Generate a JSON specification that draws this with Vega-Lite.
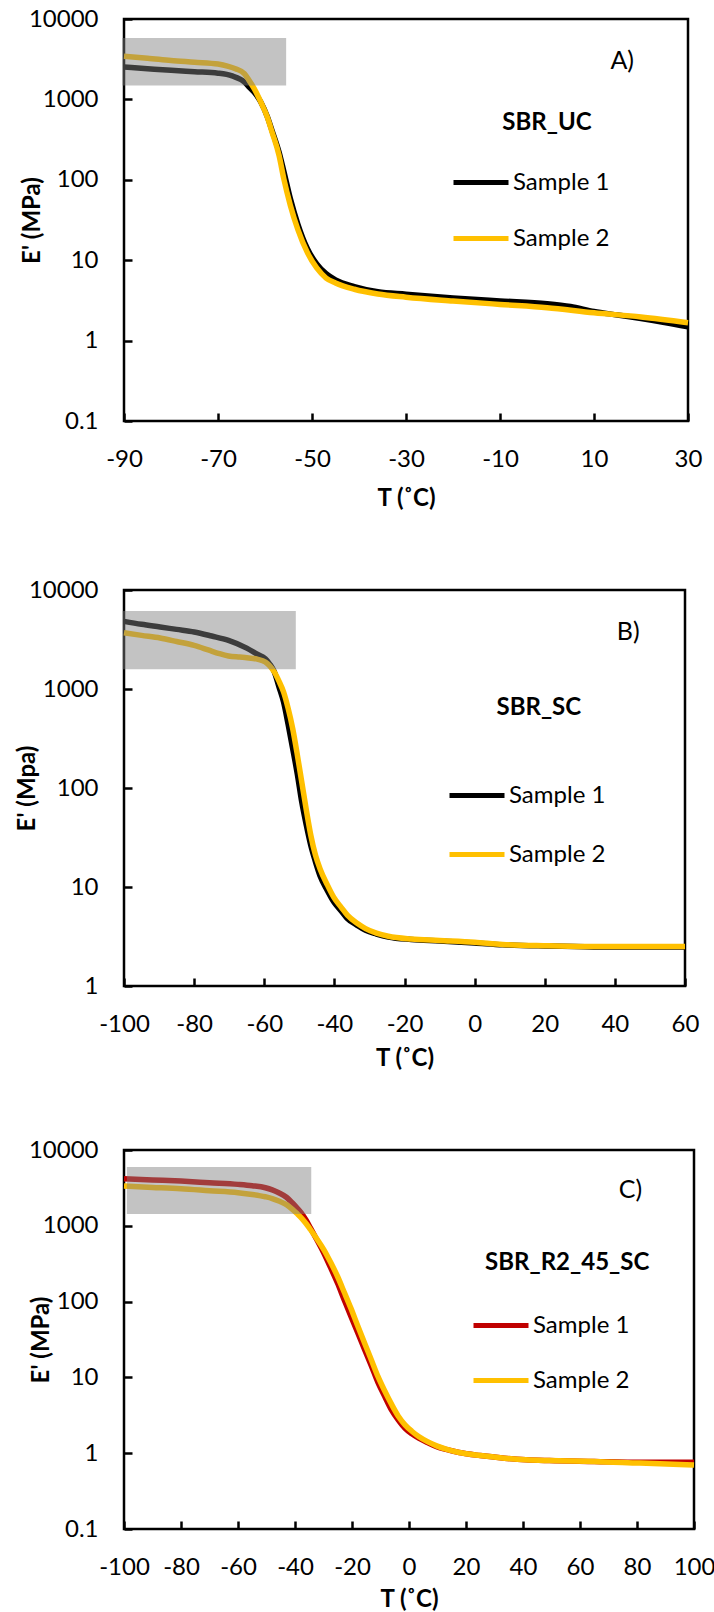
{
  "$schema": "https://vega.github.io/schema/vega-lite/v6.json",
  "padding": {"left": 13, "top": 5, "right": 3, "bottom": 0},
  "spacing": 64,
  "background": "white",
  "config": {
    "font": "Lato",
    "view": {"stroke": "#000000", "strokeWidth": 2.5},
    "axis": {
      "grid": false, "domain": false,
      "tickColor": "#000000", "tickWidth": 2.5, "tickSize": -8,
      "labelFont": "Lato", "labelFontSize": 24, "labelColor": "#000000", "labelPadding": 34,
      "labelFlush": false, "labelOverlap": false,
      "titleFont": "Lato", "titleFontSize": 24, "titleFontWeight": "bold", "titleColor": "#000000",
      "titleBaseline": "middle"
    },
    "legend": {
      "orient": "none", "title": null, "symbolType": "stroke", "symbolSize": 3025, "symbolStrokeWidth": 5,
      "labelFont": "Lato", "labelFontSize": 24, "labelColor": "#000000", "labelOffset": 2, "padding": 0
    }
  },
  "resolve": {"scale": {"color": "independent"}},
  "datasets": {
    "curvesA": [
      {"sample": "Sample 1", "T": -90, "E": 2530}, {"sample": "Sample 1", "T": -85, "E": 2410},
      {"sample": "Sample 1", "T": -80, "E": 2300}, {"sample": "Sample 1", "T": -75, "E": 2210},
      {"sample": "Sample 1", "T": -70, "E": 2120}, {"sample": "Sample 1", "T": -67, "E": 1960},
      {"sample": "Sample 1", "T": -64.4, "E": 1645}, {"sample": "Sample 1", "T": -63.4, "E": 1425},
      {"sample": "Sample 1", "T": -62.3, "E": 1230}, {"sample": "Sample 1", "T": -60.9, "E": 930},
      {"sample": "Sample 1", "T": -59.5, "E": 610}, {"sample": "Sample 1", "T": -58.5, "E": 410},
      {"sample": "Sample 1", "T": -57, "E": 220}, {"sample": "Sample 1", "T": -56, "E": 128},
      {"sample": "Sample 1", "T": -54.6, "E": 58}, {"sample": "Sample 1", "T": -53, "E": 28},
      {"sample": "Sample 1", "T": -51, "E": 14}, {"sample": "Sample 1", "T": -49, "E": 9},
      {"sample": "Sample 1", "T": -47, "E": 6.8}, {"sample": "Sample 1", "T": -45, "E": 5.7},
      {"sample": "Sample 1", "T": -41, "E": 4.7}, {"sample": "Sample 1", "T": -36, "E": 4.05},
      {"sample": "Sample 1", "T": -30, "E": 3.78}, {"sample": "Sample 1", "T": -20, "E": 3.4},
      {"sample": "Sample 1", "T": -10, "E": 3.12}, {"sample": "Sample 1", "T": 0, "E": 2.88},
      {"sample": "Sample 1", "T": 5, "E": 2.65}, {"sample": "Sample 1", "T": 10, "E": 2.3},
      {"sample": "Sample 1", "T": 15, "E": 2.08}, {"sample": "Sample 1", "T": 20, "E": 1.88},
      {"sample": "Sample 1", "T": 25, "E": 1.68}, {"sample": "Sample 1", "T": 30, "E": 1.48},
      {"sample": "Sample 2", "T": -90, "E": 3430}, {"sample": "Sample 2", "T": -85, "E": 3250},
      {"sample": "Sample 2", "T": -80, "E": 3050}, {"sample": "Sample 2", "T": -75, "E": 2900},
      {"sample": "Sample 2", "T": -70, "E": 2750}, {"sample": "Sample 2", "T": -68, "E": 2600},
      {"sample": "Sample 2", "T": -66.3, "E": 2410}, {"sample": "Sample 2", "T": -64.4, "E": 2090},
      {"sample": "Sample 2", "T": -63.4, "E": 1725}, {"sample": "Sample 2", "T": -62.3, "E": 1360},
      {"sample": "Sample 2", "T": -60.9, "E": 929}, {"sample": "Sample 2", "T": -59.5, "E": 600},
      {"sample": "Sample 2", "T": -58.5, "E": 392}, {"sample": "Sample 2", "T": -57, "E": 200},
      {"sample": "Sample 2", "T": -56, "E": 103}, {"sample": "Sample 2", "T": -54.6, "E": 48},
      {"sample": "Sample 2", "T": -53, "E": 24}, {"sample": "Sample 2", "T": -51, "E": 12.5},
      {"sample": "Sample 2", "T": -49, "E": 8}, {"sample": "Sample 2", "T": -47, "E": 6},
      {"sample": "Sample 2", "T": -45, "E": 5.2}, {"sample": "Sample 2", "T": -41, "E": 4.35},
      {"sample": "Sample 2", "T": -36, "E": 3.8}, {"sample": "Sample 2", "T": -30, "E": 3.47},
      {"sample": "Sample 2", "T": -20, "E": 3.11}, {"sample": "Sample 2", "T": -10, "E": 2.82},
      {"sample": "Sample 2", "T": 0, "E": 2.57}, {"sample": "Sample 2", "T": 10, "E": 2.22},
      {"sample": "Sample 2", "T": 20, "E": 1.97}, {"sample": "Sample 2", "T": 30, "E": 1.67}
    ],
    "curvesB": [
      {"sample": "Sample 1", "T": -100, "E": 4820}, {"sample": "Sample 1", "T": -95, "E": 4500},
      {"sample": "Sample 1", "T": -89.7, "E": 4230}, {"sample": "Sample 1", "T": -85, "E": 4000},
      {"sample": "Sample 1", "T": -80, "E": 3770}, {"sample": "Sample 1", "T": -75, "E": 3430},
      {"sample": "Sample 1", "T": -70.2, "E": 3100}, {"sample": "Sample 1", "T": -65, "E": 2590},
      {"sample": "Sample 1", "T": -62, "E": 2250}, {"sample": "Sample 1", "T": -59.7, "E": 2020},
      {"sample": "Sample 1", "T": -58.5, "E": 1800}, {"sample": "Sample 1", "T": -57.1, "E": 1480},
      {"sample": "Sample 1", "T": -55.8, "E": 1050}, {"sample": "Sample 1", "T": -54.5, "E": 740},
      {"sample": "Sample 1", "T": -53.2, "E": 440}, {"sample": "Sample 1", "T": -51.9, "E": 251},
      {"sample": "Sample 1", "T": -50.6, "E": 140}, {"sample": "Sample 1", "T": -49.3, "E": 72},
      {"sample": "Sample 1", "T": -48, "E": 42}, {"sample": "Sample 1", "T": -46.7, "E": 26},
      {"sample": "Sample 1", "T": -45.4, "E": 18}, {"sample": "Sample 1", "T": -44.1, "E": 13},
      {"sample": "Sample 1", "T": -42, "E": 9.2}, {"sample": "Sample 1", "T": -40.2, "E": 7.1},
      {"sample": "Sample 1", "T": -38, "E": 5.7}, {"sample": "Sample 1", "T": -36.3, "E": 4.8},
      {"sample": "Sample 1", "T": -33.5, "E": 4.1}, {"sample": "Sample 1", "T": -31.1, "E": 3.65},
      {"sample": "Sample 1", "T": -28, "E": 3.35}, {"sample": "Sample 1", "T": -24.6, "E": 3.12},
      {"sample": "Sample 1", "T": -18.1, "E": 2.95}, {"sample": "Sample 1", "T": -10, "E": 2.85},
      {"sample": "Sample 1", "T": 0, "E": 2.72}, {"sample": "Sample 1", "T": 8, "E": 2.61},
      {"sample": "Sample 1", "T": 21, "E": 2.53}, {"sample": "Sample 1", "T": 34, "E": 2.48},
      {"sample": "Sample 1", "T": 45, "E": 2.47}, {"sample": "Sample 1", "T": 60, "E": 2.47},
      {"sample": "Sample 2", "T": -100, "E": 3700}, {"sample": "Sample 2", "T": -95, "E": 3480},
      {"sample": "Sample 2", "T": -89.7, "E": 3275}, {"sample": "Sample 2", "T": -85, "E": 3020},
      {"sample": "Sample 2", "T": -80, "E": 2755}, {"sample": "Sample 2", "T": -76, "E": 2480},
      {"sample": "Sample 2", "T": -72.8, "E": 2275}, {"sample": "Sample 2", "T": -70.2, "E": 2155},
      {"sample": "Sample 2", "T": -67, "E": 2100}, {"sample": "Sample 2", "T": -65, "E": 2070},
      {"sample": "Sample 2", "T": -62, "E": 2000}, {"sample": "Sample 2", "T": -59.7, "E": 1875},
      {"sample": "Sample 2", "T": -58.5, "E": 1720}, {"sample": "Sample 2", "T": -57.1, "E": 1480},
      {"sample": "Sample 2", "T": -55.8, "E": 1200}, {"sample": "Sample 2", "T": -54.5, "E": 935},
      {"sample": "Sample 2", "T": -53.2, "E": 640}, {"sample": "Sample 2", "T": -51.9, "E": 400},
      {"sample": "Sample 2", "T": -50.6, "E": 220}, {"sample": "Sample 2", "T": -49.3, "E": 115},
      {"sample": "Sample 2", "T": -48, "E": 60}, {"sample": "Sample 2", "T": -46.7, "E": 33},
      {"sample": "Sample 2", "T": -45.4, "E": 21}, {"sample": "Sample 2", "T": -44.1, "E": 15.3},
      {"sample": "Sample 2", "T": -42, "E": 10.5}, {"sample": "Sample 2", "T": -40.2, "E": 7.9},
      {"sample": "Sample 2", "T": -38, "E": 6.2}, {"sample": "Sample 2", "T": -36.3, "E": 5.2},
      {"sample": "Sample 2", "T": -33.5, "E": 4.3}, {"sample": "Sample 2", "T": -31.1, "E": 3.8},
      {"sample": "Sample 2", "T": -28, "E": 3.42}, {"sample": "Sample 2", "T": -24.6, "E": 3.18},
      {"sample": "Sample 2", "T": -18.1, "E": 2.98}, {"sample": "Sample 2", "T": -10, "E": 2.88},
      {"sample": "Sample 2", "T": 0, "E": 2.76}, {"sample": "Sample 2", "T": 8, "E": 2.63},
      {"sample": "Sample 2", "T": 21, "E": 2.55}, {"sample": "Sample 2", "T": 34, "E": 2.5},
      {"sample": "Sample 2", "T": 60, "E": 2.5}
    ],
    "curvesC": [
      {"sample": "Sample 1", "T": -100, "E": 4180}, {"sample": "Sample 1", "T": -90, "E": 4030},
      {"sample": "Sample 1", "T": -80, "E": 3890}, {"sample": "Sample 1", "T": -70, "E": 3700},
      {"sample": "Sample 1", "T": -60, "E": 3520}, {"sample": "Sample 1", "T": -55, "E": 3380},
      {"sample": "Sample 1", "T": -50.4, "E": 3180}, {"sample": "Sample 1", "T": -48, "E": 2980},
      {"sample": "Sample 1", "T": -45.7, "E": 2730}, {"sample": "Sample 1", "T": -43, "E": 2380},
      {"sample": "Sample 1", "T": -40.9, "E": 2000}, {"sample": "Sample 1", "T": -39.4, "E": 1740},
      {"sample": "Sample 1", "T": -37.8, "E": 1480}, {"sample": "Sample 1", "T": -36.2, "E": 1200},
      {"sample": "Sample 1", "T": -34.6, "E": 940}, {"sample": "Sample 1", "T": -32.3, "E": 650},
      {"sample": "Sample 1", "T": -29.9, "E": 438}, {"sample": "Sample 1", "T": -27.5, "E": 280},
      {"sample": "Sample 1", "T": -25.1, "E": 176}, {"sample": "Sample 1", "T": -22.8, "E": 107},
      {"sample": "Sample 1", "T": -20.4, "E": 64}, {"sample": "Sample 1", "T": -18, "E": 39},
      {"sample": "Sample 1", "T": -15.6, "E": 23.4}, {"sample": "Sample 1", "T": -13.2, "E": 14.2},
      {"sample": "Sample 1", "T": -10.9, "E": 8.6}, {"sample": "Sample 1", "T": -8.5, "E": 5.6},
      {"sample": "Sample 1", "T": -6.1, "E": 3.7}, {"sample": "Sample 1", "T": -3.8, "E": 2.75},
      {"sample": "Sample 1", "T": -1.4, "E": 2.13}, {"sample": "Sample 1", "T": 1, "E": 1.8},
      {"sample": "Sample 1", "T": 3.4, "E": 1.58}, {"sample": "Sample 1", "T": 6.5, "E": 1.38},
      {"sample": "Sample 1", "T": 9.7, "E": 1.22}, {"sample": "Sample 1", "T": 13, "E": 1.12},
      {"sample": "Sample 1", "T": 17.6, "E": 1.02}, {"sample": "Sample 1", "T": 25, "E": 0.93},
      {"sample": "Sample 1", "T": 33.5, "E": 0.86}, {"sample": "Sample 1", "T": 41, "E": 0.82},
      {"sample": "Sample 1", "T": 49.3, "E": 0.8}, {"sample": "Sample 1", "T": 65, "E": 0.78},
      {"sample": "Sample 1", "T": 81, "E": 0.76}, {"sample": "Sample 1", "T": 100, "E": 0.76},
      {"sample": "Sample 2", "T": -100, "E": 3340}, {"sample": "Sample 2", "T": -90, "E": 3210},
      {"sample": "Sample 2", "T": -80, "E": 3080}, {"sample": "Sample 2", "T": -70, "E": 2900},
      {"sample": "Sample 2", "T": -60, "E": 2730}, {"sample": "Sample 2", "T": -55, "E": 2590},
      {"sample": "Sample 2", "T": -50.4, "E": 2415}, {"sample": "Sample 2", "T": -48, "E": 2290},
      {"sample": "Sample 2", "T": -45.7, "E": 2120}, {"sample": "Sample 2", "T": -43, "E": 1900},
      {"sample": "Sample 2", "T": -40.9, "E": 1645}, {"sample": "Sample 2", "T": -39.4, "E": 1460},
      {"sample": "Sample 2", "T": -37.8, "E": 1275}, {"sample": "Sample 2", "T": -36.2, "E": 1080},
      {"sample": "Sample 2", "T": -34.6, "E": 893}, {"sample": "Sample 2", "T": -32.3, "E": 670},
      {"sample": "Sample 2", "T": -29.9, "E": 486}, {"sample": "Sample 2", "T": -27.5, "E": 330},
      {"sample": "Sample 2", "T": -25.1, "E": 216}, {"sample": "Sample 2", "T": -22.8, "E": 135},
      {"sample": "Sample 2", "T": -20.4, "E": 82}, {"sample": "Sample 2", "T": -18, "E": 48},
      {"sample": "Sample 2", "T": -15.6, "E": 28.5}, {"sample": "Sample 2", "T": -13.2, "E": 17},
      {"sample": "Sample 2", "T": -10.9, "E": 10.3}, {"sample": "Sample 2", "T": -8.5, "E": 6.6},
      {"sample": "Sample 2", "T": -6.1, "E": 4.4}, {"sample": "Sample 2", "T": -3.8, "E": 3.1},
      {"sample": "Sample 2", "T": -1.4, "E": 2.37}, {"sample": "Sample 2", "T": 1, "E": 1.95},
      {"sample": "Sample 2", "T": 3.4, "E": 1.66}, {"sample": "Sample 2", "T": 6.5, "E": 1.42},
      {"sample": "Sample 2", "T": 9.7, "E": 1.25}, {"sample": "Sample 2", "T": 13, "E": 1.13},
      {"sample": "Sample 2", "T": 17.6, "E": 1.02}, {"sample": "Sample 2", "T": 25, "E": 0.93},
      {"sample": "Sample 2", "T": 33.5, "E": 0.86}, {"sample": "Sample 2", "T": 41, "E": 0.82},
      {"sample": "Sample 2", "T": 49.3, "E": 0.8}, {"sample": "Sample 2", "T": 65, "E": 0.78},
      {"sample": "Sample 2", "T": 81, "E": 0.74}, {"sample": "Sample 2", "T": 100, "E": 0.7}
    ],
    "boxA": [{"T": -90.4, "T2": -55.5, "E": 1490, "E2": 5800}],
    "boxB": [{"T": -100.4, "T2": -51, "E": 1585, "E2": 6120}],
    "boxC": [{"T": -99, "T2": -34.3, "E": 1432, "E2": 5970}],
    "labelsA": [{"label": "A)", "T": 16, "E": 3000}],
    "namesA": [{"label": "SBR_UC", "T": 0, "E": 508}],
    "labelsB": [{"label": "B)", "T": 43.8, "E": 3765}],
    "namesB": [{"label": "SBR_SC", "T": 18.3, "E": 643}],
    "labelsC": [{"label": "C)", "T": 77.7, "E": 2965}],
    "namesC": [{"label": "SBR_R2_45_SC", "T": 55.5, "E": 323}]
  },
  "vconcat": [
    {
      "width": 564, "height": 402,
      "layer": [
        {
          "data": {"name": "curvesA"},
          "mark": {"type": "line", "strokeWidth": 5.5, "interpolate": "monotone"},
          "encoding": {
            "x": {"field": "T", "type": "quantitative", "title": "T (˚C)",
                  "scale": {"domain": [-90, 30], "nice": false, "zero": false},
                  "axis": {"values": [-90, -70, -50, -30, -10, 10, 30], "labelExpr": "'' + datum.value", "titleY": 77}},
            "y": {"field": "E", "type": "quantitative", "title": "E' (MPa)",
                  "scale": {"type": "log", "domain": [0.1, 10000], "nice": false},
                  "axis": {"values": [0.1, 1, 10, 100, 1000, 10000], "labelExpr": "'' + datum.value", "titleX": -92}},
            "color": {"field": "sample", "type": "nominal",
                      "scale": {"domain": ["Sample 1", "Sample 2"], "range": ["#000000", "#FFC000"]},
                      "legend": {"legendX": 327, "legendY": 133.5, "rowPadding": 14}}
          }
        },
        {
          "data": {"name": "boxA"},
          "mark": {"type": "rect", "fill": "#808080", "opacity": 0.47},
          "encoding": {
            "x": {"field": "T", "type": "quantitative", "title": "T (˚C)", "scale": {"domain": [-90, 30], "nice": false, "zero": false}},
            "x2": {"field": "T2"},
            "y": {"field": "E", "type": "quantitative", "title": "E' (MPa)", "scale": {"type": "log", "domain": [0.1, 10000], "nice": false}},
            "y2": {"field": "E2"}
          }
        },
        {
          "data": {"name": "labelsA"},
          "mark": {"type": "text", "font": "Lato", "fontSize": 25, "color": "#000000", "align": "center", "baseline": "middle"},
          "encoding": {
            "x": {"field": "T", "type": "quantitative", "title": "T (˚C)", "scale": {"domain": [-90, 30], "nice": false, "zero": false}},
            "y": {"field": "E", "type": "quantitative", "title": "E' (MPa)", "scale": {"type": "log", "domain": [0.1, 10000], "nice": false}},
            "text": {"field": "label"}
          }
        },
        {
          "data": {"name": "namesA"},
          "mark": {"type": "text", "font": "Lato", "fontSize": 24, "fontWeight": "bold", "color": "#000000", "align": "center", "baseline": "middle"},
          "encoding": {
            "x": {"field": "T", "type": "quantitative", "title": "T (˚C)", "scale": {"domain": [-90, 30], "nice": false, "zero": false}},
            "y": {"field": "E", "type": "quantitative", "title": "E' (MPa)", "scale": {"type": "log", "domain": [0.1, 10000], "nice": false}},
            "text": {"field": "label"}
          }
        }
      ]
    },
    {
      "width": 561, "height": 396,
      "layer": [
        {
          "data": {"name": "curvesB"},
          "mark": {"type": "line", "strokeWidth": 5.5, "interpolate": "monotone"},
          "encoding": {
            "x": {"field": "T", "type": "quantitative", "title": "T (˚C)",
                  "scale": {"domain": [-100, 60], "nice": false, "zero": false},
                  "axis": {"values": [-100, -80, -60, -40, -20, 0, 20, 40, 60], "labelExpr": "'' + datum.value", "titleY": 72}},
            "y": {"field": "E", "type": "quantitative", "title": "E' (Mpa)",
                  "scale": {"type": "log", "domain": [1, 10000], "nice": false},
                  "axis": {"values": [1, 10, 100, 1000, 10000], "labelExpr": "'' + datum.value", "titleX": -97}},
            "color": {"field": "sample", "type": "nominal",
                      "scale": {"domain": ["Sample 1", "Sample 2"], "range": ["#000000", "#FFC000"]},
                      "legend": {"legendX": 323, "legendY": 175.5, "rowPadding": 17}}
          }
        },
        {
          "data": {"name": "boxB"},
          "mark": {"type": "rect", "fill": "#808080", "opacity": 0.47},
          "encoding": {
            "x": {"field": "T", "type": "quantitative", "title": "T (˚C)", "scale": {"domain": [-100, 60], "nice": false, "zero": false}},
            "x2": {"field": "T2"},
            "y": {"field": "E", "type": "quantitative", "title": "E' (Mpa)", "scale": {"type": "log", "domain": [1, 10000], "nice": false}},
            "y2": {"field": "E2"}
          }
        },
        {
          "data": {"name": "labelsB"},
          "mark": {"type": "text", "font": "Lato", "fontSize": 25, "color": "#000000", "align": "center", "baseline": "middle"},
          "encoding": {
            "x": {"field": "T", "type": "quantitative", "title": "T (˚C)", "scale": {"domain": [-100, 60], "nice": false, "zero": false}},
            "y": {"field": "E", "type": "quantitative", "title": "E' (Mpa)", "scale": {"type": "log", "domain": [1, 10000], "nice": false}},
            "text": {"field": "label"}
          }
        },
        {
          "data": {"name": "namesB"},
          "mark": {"type": "text", "font": "Lato", "fontSize": 24, "fontWeight": "bold", "color": "#000000", "align": "center", "baseline": "middle"},
          "encoding": {
            "x": {"field": "T", "type": "quantitative", "title": "T (˚C)", "scale": {"domain": [-100, 60], "nice": false, "zero": false}},
            "y": {"field": "E", "type": "quantitative", "title": "E' (Mpa)", "scale": {"type": "log", "domain": [1, 10000], "nice": false}},
            "text": {"field": "label"}
          }
        }
      ]
    },
    {
      "width": 570, "height": 379,
      "layer": [
        {
          "data": {"name": "curvesC"},
          "mark": {"type": "line", "strokeWidth": 5.5, "interpolate": "monotone"},
          "encoding": {
            "x": {"field": "T", "type": "quantitative", "title": "T (˚C)",
                  "scale": {"domain": [-100, 100], "nice": false, "zero": false},
                  "axis": {"values": [-100, -80, -60, -40, -20, 0, 20, 40, 60, 80, 100], "labelExpr": "'' + datum.value", "titleY": 70}},
            "y": {"field": "E", "type": "quantitative", "title": "E' (MPa)",
                  "scale": {"type": "log", "domain": [0.1, 10000], "nice": false},
                  "axis": {"values": [0.1, 1, 10, 100, 1000, 10000], "labelExpr": "'' + datum.value", "titleX": -83}},
            "color": {"field": "sample", "type": "nominal",
                      "scale": {"domain": ["Sample 1", "Sample 2"], "range": ["#C00000", "#FFC000"]},
                      "legend": {"legendX": 347, "legendY": 145.5, "rowPadding": 13}}
          }
        },
        {
          "data": {"name": "boxC"},
          "mark": {"type": "rect", "fill": "#808080", "opacity": 0.47},
          "encoding": {
            "x": {"field": "T", "type": "quantitative", "title": "T (˚C)", "scale": {"domain": [-100, 100], "nice": false, "zero": false}},
            "x2": {"field": "T2"},
            "y": {"field": "E", "type": "quantitative", "title": "E' (MPa)", "scale": {"type": "log", "domain": [0.1, 10000], "nice": false}},
            "y2": {"field": "E2"}
          }
        },
        {
          "data": {"name": "labelsC"},
          "mark": {"type": "text", "font": "Lato", "fontSize": 25, "color": "#000000", "align": "center", "baseline": "middle"},
          "encoding": {
            "x": {"field": "T", "type": "quantitative", "title": "T (˚C)", "scale": {"domain": [-100, 100], "nice": false, "zero": false}},
            "y": {"field": "E", "type": "quantitative", "title": "E' (MPa)", "scale": {"type": "log", "domain": [0.1, 10000], "nice": false}},
            "text": {"field": "label"}
          }
        },
        {
          "data": {"name": "namesC"},
          "mark": {"type": "text", "font": "Lato", "fontSize": 24, "fontWeight": "bold", "color": "#000000", "align": "center", "baseline": "middle"},
          "encoding": {
            "x": {"field": "T", "type": "quantitative", "title": "T (˚C)", "scale": {"domain": [-100, 100], "nice": false, "zero": false}},
            "y": {"field": "E", "type": "quantitative", "title": "E' (MPa)", "scale": {"type": "log", "domain": [0.1, 10000], "nice": false}},
            "text": {"field": "label"}
          }
        }
      ]
    }
  ]
}
